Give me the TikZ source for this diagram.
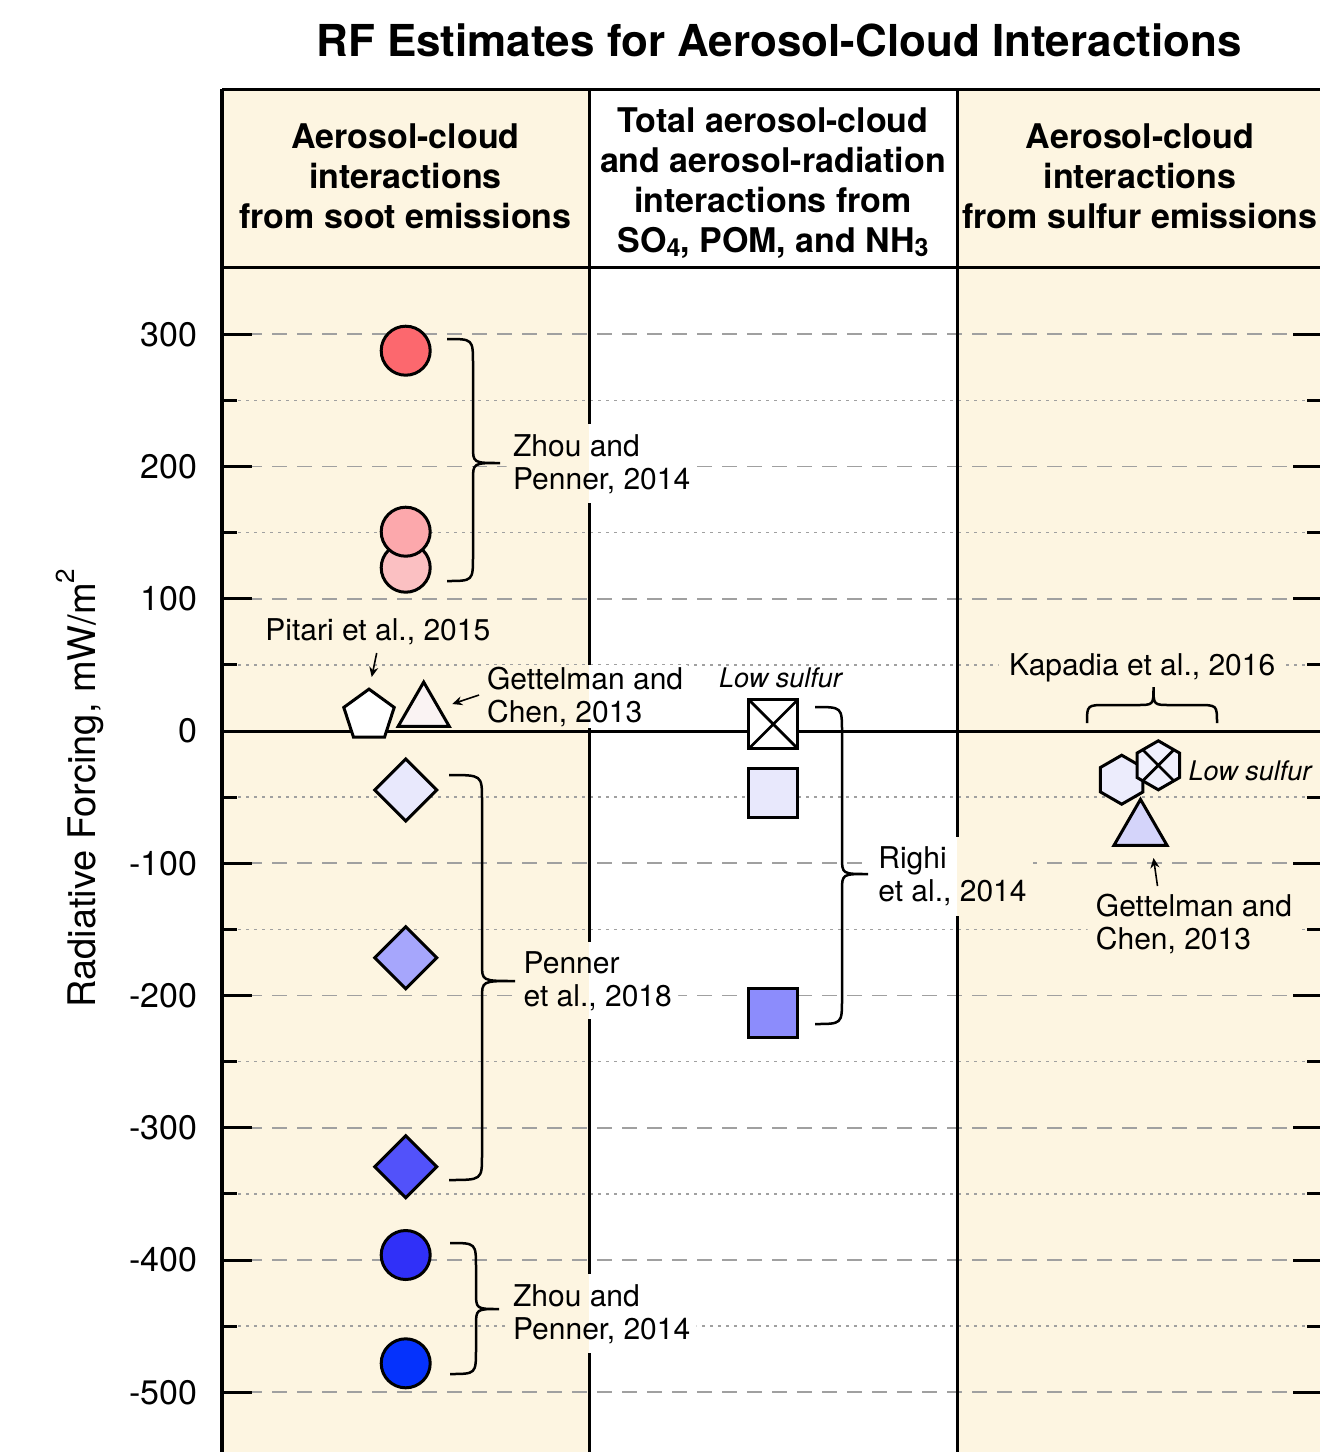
\documentclass[tikz,border=0pt]{standalone}
\usepackage{fontspec}
\setmainfont{TeX Gyre Heros}
\usetikzlibrary{shapes.geometric,arrows.meta,calc}

\definecolor{cream}{RGB}{253,245,225}
\definecolor{gridgray}{RGB}{160,160,160}
\definecolor{redA}{RGB}{252,104,110}
\definecolor{pinkA}{RGB}{252,168,172}
\definecolor{pinkB}{RGB}{251,192,194}
\definecolor{blushW}{RGB}{250,243,243}
\definecolor{lavA}{RGB}{232,232,252}
\definecolor{lavB}{RGB}{166,166,252}
\definecolor{blueC}{RGB}{82,82,250}
\definecolor{blueD}{RGB}{48,48,248}
\definecolor{blueE}{RGB}{5,50,252}
\definecolor{sqB}{RGB}{140,140,252}
\definecolor{hexA}{RGB}{236,236,252}
\definecolor{hexB}{RGB}{240,240,253}
\definecolor{triB}{RGB}{212,212,250}

\pgfdeclarelayer{panel}
\pgfdeclarelayer{grid}
\pgfdeclarelayer{knock}
\pgfdeclarelayer{frame}
\pgfsetlayers{panel,grid,knock,frame,main}

% column fills (also reused to blank the rules behind labels)
\newcommand\columnfills{%
  \fill[cream] (222,89) rectangle (589,1452);
  \fill[white] (589,89) rectangle (957,1452);
  \fill[cream] (957,89) rectangle (1320,1452);}

% blank the rules behind a label: node, horizontal pad, vertical pad
\newcommand\knock[3]{%
  \begin{scope}
    \clip ($(#1.north west)+(-#2,-#3)$) rectangle ($(#1.south east)+(#2,#3)$);
    \columnfills
  \end{scope}}

% vertical curly brace: x end, x stem, x tip, y top, y tip, y bottom
\newcommand\vbrace[6]{%
  \draw[bracepen] (#1,#4) .. controls (#2,#4) .. (#2,#4+25)
    -- (#2,#5-17) .. controls (#2,#5) .. (#3,#5)
    .. controls (#2,#5) .. (#2,#5+17)
    -- (#2,#6-25) .. controls (#2,#6) .. (#1,#6);}

\newcommand\subdig[1]{\raisebox{-0.12em}{\fontsize{12.5}{12.5}\selectfont #1}}

\begin{document}
\begin{tikzpicture}[x=0.5pt,y=-0.5pt,
  sym/.style={draw=black, line width=1.5pt, inner sep=0pt, outer sep=0pt},
  disc/.style={sym, circle, minimum size=24.5pt},
  rhomb/.style={sym, regular polygon, regular polygon sides=4, regular polygon rotate=45, minimum size=31pt},
  sqbox/.style={sym, rectangle, minimum size=24.5pt},
  penta/.style={sym, regular polygon, regular polygon sides=5, minimum size=26.5pt},
  trimark/.style={sym, regular polygon, regular polygon sides=3, minimum size=29.5pt},
  hexmark/.style={sym, regular polygon, regular polygon sides=6, regular polygon rotate=30, minimum size=24.5pt},
  lab/.style={font=\fontsize{15}{16.5}\selectfont, align=left, inner sep=0pt, anchor=base west},
  lowlab/.style={font=\itshape\fontsize{13.5}{15}\selectfont, inner sep=0pt, anchor=base west},
  head/.style={font=\bfseries\fontsize{17}{20}\selectfont, align=center, inner sep=0pt},
  ticklab/.style={font=\fontsize{17}{20}\selectfont, inner sep=0pt, anchor=east},
  majgrid/.style={gridgray, line width=0.8pt, dash pattern=on 7.5pt off 5pt},
  mingrid/.style={gridgray, line width=0.8pt, dash pattern=on 1.25pt off 2.75pt},
  rule/.style={black, line width=1.5pt},
  bracepen/.style={black, line width=1.25pt},
  arrowpen/.style={black, line width=0.8pt, -{Stealth[length=5pt,width=4.5pt]}}]

\useasboundingbox (0,0) rectangle (1320,1452);

% ---- column backgrounds
\begin{pgfonlayer}{panel}
  \columnfills
\end{pgfonlayer}

% ---- grid lines and column dividers
\begin{pgfonlayer}{grid}
  \foreach \v in {300,200,100,-100,-200,-300,-400,-500}
    \draw[majgrid] (222,{731-1.3225*\v}) -- (1320,{731-1.3225*\v});
  \foreach \v in {250,150,...,-450}
    \draw[mingrid] (222,{731-1.3225*\v}) -- (1320,{731-1.3225*\v});
  \draw[rule] (589,89) -- (589,1452);
  \draw[rule] (957,89) -- (957,1452);
\end{pgfonlayer}

% ---- frame, ticks and zero line
\begin{pgfonlayer}{frame}
  \draw[rule] (222,89) -- (1320,89);
  \draw[rule] (222,267) -- (1320,267);
  \foreach \v in {300,200,...,-500} {
    \draw[rule] (222,{731-1.3225*\v}) -- (252,{731-1.3225*\v});
    \draw[rule] (1293,{731-1.3225*\v}) -- (1320,{731-1.3225*\v});
  }
  \foreach \v in {250,150,...,-450} {
    \draw[rule] (222,{731-1.3225*\v}) -- (237,{731-1.3225*\v});
    \draw[rule] (1307,{731-1.3225*\v}) -- (1320,{731-1.3225*\v});
  }
  \draw[rule] (1320,731) -- (222,731);
  \draw[black, line width=1.8pt] (222,89) -- (222,1452);
\end{pgfonlayer}

% ---- title, headers, axis
\node[font=\bfseries\fontsize{22}{26}\selectfont, inner sep=0pt] (title) at (779,40)
  {RF Estimates for Aerosol-Cloud Interactions};
\node[head] (h1) at (405.5,176) {Aerosol-cloud\\interactions\\from soot emissions};
\node[head] (h2) at (773,183) {Total aerosol-cloud\\and aerosol-radiation\\interactions from\\SO\subdig{4}, POM, and NH\subdig{3}};
\node[head] (h3) at (1140,176) {Aerosol-cloud\\interactions\\from sulfur emissions};
\node[font=\fontsize{19}{22}\selectfont, rotate=90, inner sep=0pt] (ylab) at (80,788)
  {Radiative Forcing, mW/m\raisebox{0.55em}{\fontsize{13}{13}\selectfont 2}};
\foreach \v in {300,200,...,-500}
  \node[ticklab] (tk\v) at (198,{731-1.3225*\v}) {\v};

% ---- braces
\vbrace{447}{473}{500}{339}{463}{581}
\vbrace{449}{482}{515}{775}{981}{1180}
\vbrace{450}{476}{499}{1243}{1309}{1374}
\vbrace{815}{842}{868}{707}{874}{1024}
\draw[bracepen] (1087,723) .. controls (1087,705) .. (1107,705) -- (1137,705)
  .. controls (1153.5,705) .. (1153.5,687) .. controls (1153.5,705) .. (1170,705)
  -- (1197,705) .. controls (1217,705) .. (1217,723);

% ---- soot column markers
\node[disc, fill=redA] (zA) at (405.7,350.7) {};
\node[disc, fill=pinkB] (zC) at (405.7,567.7) {};
\node[disc, fill=pinkA] (zB) at (405.7,531.7) {};
\node[penta, fill=white] (pit) at (369,715.6) {};
\node[trimark, fill=blushW] (getA) at (423.7,711.6) {};
\node[rhomb, fill=lavA] (pA) at (405.7,790) {};
\node[rhomb, fill=lavB] (pB) at (405.7,957.7) {};
\node[rhomb, fill=blueC] (pC) at (405.7,1166.7) {};
\node[disc, fill=blueD] (zD) at (405.7,1255) {};
\node[disc, fill=blueE] (zE) at (405.7,1363.3) {};

% ---- middle column markers
\node[sqbox, fill=white] (rA) at (773.3,724.2) {};
\draw[black, line width=1.4pt] (rA.north west) -- (rA.south east) (rA.north east) -- (rA.south west);
\node[sqbox, fill=lavA] (rB) at (773.3,793) {};
\node[sqbox, fill=sqB] (rC) at (773.3,1012.5) {};

% ---- sulfur column markers
\node[hexmark, fill=hexA] (kA) at (1121.7,779.7) {};
\node[hexmark, fill=hexB] (kB) at (1158.3,765.3) {};
\draw[black, line width=1.4pt] (kB.135) -- (kB.-45) (kB.45) -- (kB.-135);
\node[trimark, fill=triB, minimum size=30.6pt] (getB) at (1140.5,830) {};

% ---- labels (two-line labels are placed by the baseline of their last line)
\node[lab] (lZ1) at (512.7,489) {Zhou and\\Penner, 2014};
\node[lab] (lPit) at (265,640) {Pitari et al., 2015};
\node[lab] (lG1) at (486.7,722) {Gettelman and\\Chen, 2013};
\node[lab] (lP) at (523.3,1006) {Penner\\et al., 2018};
\node[lab] (lZ2) at (512.7,1339) {Zhou and\\Penner, 2014};
\node[lowlab] (lLow1) at (718.8,687) {Low sulfur};
\node[lab] (lR) at (878,901.7) {Righi\\et al., 2014};
\node[lab] (lK) at (1008.6,675) {Kapadia et al., 2016};
\node[lowlab] (lLow2) at (1188.3,780) {Low sulfur};
\node[lab] (lG2) at (1095.5,949) {Gettelman and\\Chen, 2013};

\begin{pgfonlayer}{knock}
  \knock{lZ1}{6}{9}
  \knock{lPit}{6}{4}
  \knock{lG1}{4}{0.5}
  \knock{lP}{6}{8}
  \knock{lZ2}{6}{9}
  \knock{lR}{6}{9}
  \knock{lK}{10}{5}
  \knock{lG2}{8}{6}
\end{pgfonlayer}

% ---- pointer arrows
\coordinate (pitT) at (376.7,653);
\coordinate (pitH) at (371.7,677);
\coordinate (g1T) at (479,695);
\coordinate (g1H) at (452.3,704);
\coordinate (g2T) at (1157.5,886);
\coordinate (g2H) at (1153.5,858);
\draw[arrowpen] (pitT) -- (pitH);
\draw[arrowpen] (g1T) -- (g1H);
\draw[arrowpen] (g2T) -- (g2H);

\end{tikzpicture}
\end{document}
